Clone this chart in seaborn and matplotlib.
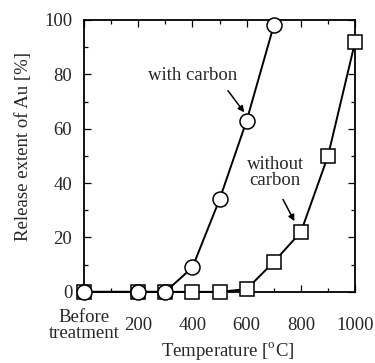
import matplotlib
matplotlib.use("Agg")
import matplotlib.pyplot as plt
import seaborn as sns
import pandas as pd
from matplotlib.ticker import MultipleLocator

temp_with = [0, 200, 300, 400, 500, 600, 700]
rel_with = [0, 0, 0, 9, 34, 63, 98]
temp_without = [0, 200, 300, 400, 500, 600, 700, 800, 900, 1000]
rel_without = [0, 0, 0, 0, 0, 1, 11, 22, 50, 92]
xtick_vals = [0, 200, 400, 600, 800, 1000]
xtick_labels = ["Before\ntreatment", "200", "400", "600", "800", "1000"]

sns.set_theme(style="ticks")
plt.rcParams["font.family"] = ["Liberation Serif", "DejaVu Serif"]
plt.rcParams["mathtext.fontset"] = "custom"
plt.rcParams["mathtext.rm"] = "Liberation Serif"

df_with = pd.DataFrame({"T": temp_with, "R": rel_with})
df_without = pd.DataFrame({"T": temp_without, "R": rel_without})

fig = plt.figure(figsize=(3.75, 3.63), dpi=100)
ax = fig.add_axes([0.224, 0.196, 0.723, 0.749])

sns.lineplot(data=df_without, x="T", y="R", ax=ax, color="black", lw=1.4,
             marker="s", markersize=10.2, markerfacecolor="white",
             markeredgecolor="black", markeredgewidth=1.1, clip_on=False, zorder=3)
sns.lineplot(data=df_with, x="T", y="R", ax=ax, color="black", lw=1.4,
             marker="o", markersize=10.8, markerfacecolor="white",
             markeredgecolor="black", markeredgewidth=1.1, clip_on=False, zorder=4)

ax.set_xlim(0, 1000)
ax.set_ylim(0, 100)
ax.set_xticks(xtick_vals)
ax.set_xticklabels(xtick_labels, fontsize=13.5, linespacing=0.95,
                   va="center", ha="center", multialignment="center")
ax.xaxis.set_minor_locator(MultipleLocator(100))
ax.yaxis.set_major_locator(MultipleLocator(20))
ax.yaxis.set_minor_locator(MultipleLocator(10))
ax.tick_params(axis="both", which="both", direction="in", top=True, right=True,
               labelsize=13.5, color="black", width=0.9)
ax.tick_params(which="major", length=5)
ax.tick_params(which="minor", length=3)
ax.tick_params(axis="x", pad=24)
ax.tick_params(axis="y", pad=8.5)
for s in ax.spines.values():
    s.set_linewidth(1.3)
    s.set_color("black")

ax.set_xlabel(r"Temperature [$^{\rm o}$C]", fontsize=13.5)
ax.xaxis.label.set_va("center")
ax.xaxis.set_label_coords(0.531, -0.216)
ax.set_ylabel("Release extent of Au [%]", fontsize=13.5)
ax.yaxis.set_label_coords(-0.19, 0.533)

ax.text(402, 79.4, "with carbon", fontsize=13.5, ha="center", va="center")
ax.annotate("", xy=(591, 66), xytext=(531, 74),
            arrowprops=dict(arrowstyle="-|>", color="black", lw=1.1,
                            mutation_scale=9, shrinkA=0, shrinkB=0))
ax.text(705, 44, "without\ncarbon", fontsize=13.5, ha="center", va="center",
        linespacing=0.95)
ax.annotate("", xy=(776, 26), xytext=(734, 34),
            arrowprops=dict(arrowstyle="-|>", color="black", lw=1.1,
                            mutation_scale=9, shrinkA=0, shrinkB=0))

fig.savefig("out.png", dpi=100)
